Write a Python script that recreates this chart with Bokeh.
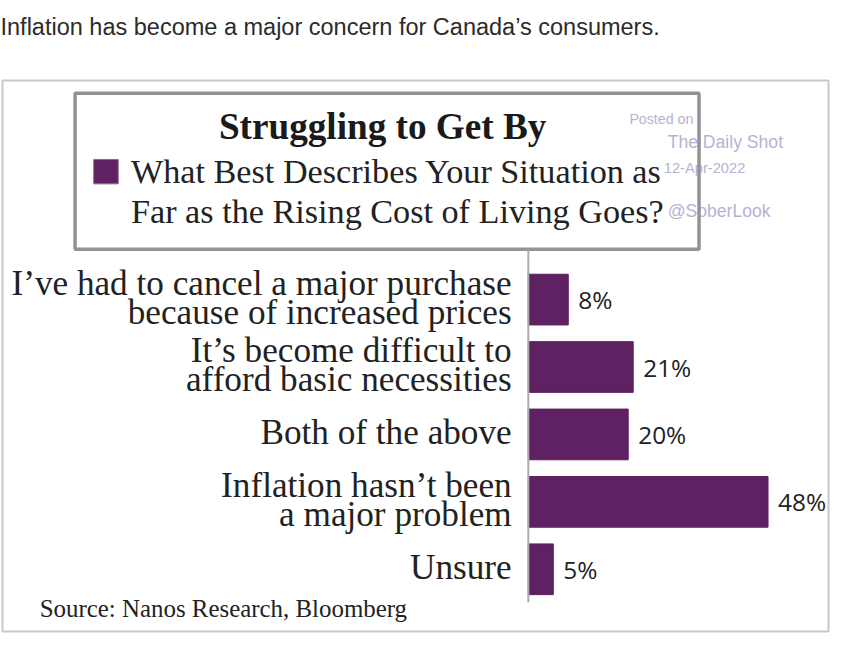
from bokeh.plotting import figure
from bokeh.models import Range1d
from bokeh.core.properties import value
from bokeh.embed import file_html
from bokeh.resources import INLINE

# ---------------- data ----------------
page_title = "Inflation has become a major concern for Canada\u2019s consumers."
chart_title = "Struggling to Get By"
legend_lines = ["What Best Describes Your Situation as",
                "Far as the Rising Cost of Living Goes?"]
categories = [
    "I\u2019ve had to cancel a major purchase\nbecause of increased prices",
    "It\u2019s become difficult to\nafford basic necessities",
    "Both of the above",
    "Inflation hasn\u2019t been\na major problem",
    "Unsure",
]
values = [8, 21, 20, 48, 5]
value_labels = [f"{v}%" for v in values]
source_note = "Source: Nanos Research, Bloomberg"
watermark_lines = ["Posted on", "The Daily Shot", "12-Apr-2022", "@SoberLook"]

# ---------------- layout helpers ----------------
W, H = 830, 633
REF_W, REF_H = 846, 649
BASE_X = 538.0        # reference px of the 0% baseline
PX_PER_PCT = 5.09     # reference px per percentage point
ROW0 = 306.65         # reference px of first row centre
ROW_STEP = 69.125     # reference px between rows
FS = 0.978


def X(rx):
    return (rx - BASE_X) / PX_PER_PCT


def Y(ry):
    return (ry - ROW0) / ROW_STEP


def fpx(s):
    return f"{s * FS:.1f}px"


BAR = "#5e2162"
INK = "#222222"
WM = "#b5b3d4"

p = figure(width=W, height=H,
           x_range=Range1d(X(0), X(REF_W)),
           y_range=Range1d(Y(REF_H), Y(0)),
           output_backend="svg", toolbar_location=None,
           x_axis_location=None, y_axis_location=None,
           min_border=0, outline_line_color=None)
p.min_border_left = p.min_border_right = p.min_border_top = p.min_border_bottom = 0
p.xgrid.visible = False
p.ygrid.visible = False
p.background_fill_color = "white"
p.border_fill_color = "white"

# page title
p.text(x=[X(0)], y=[Y(26.7)], text=[page_title], text_align="left",
       text_baseline="middle", text_font=value("Liberation Sans"),
       text_font_size=fpx(24), text_color="#2b2b2b")

# outer frame
p.quad(left=[X(2)], right=[X(844)], top=[Y(82)], bottom=[Y(647)],
       fill_color=None, line_color="#c8c8c8", line_width=2)

# watermark (behind)
wm_x = [641, 680, 676, 680]
wm_y = [121, 145, 172, 215.5]
wm_size = [14.5, 18, 15, 18]
for t, xx, yy, s in zip(watermark_lines, wm_x, wm_y, wm_size):
    p.text(x=[X(xx)], y=[Y(yy)], text=[t], text_align="left",
           text_baseline="middle", text_font=value("Liberation Sans"),
           text_font_size=fpx(s), text_color=WM)

# title box
p.quad(left=[X(76)], right=[X(712)], top=[Y(95)], bottom=[Y(255)],
       fill_color=None, line_color="#929292", line_width=3.5)

p.text(x=[X(389.5)], y=[Y(129.5)], text=[chart_title], text_align="center",
       text_baseline="middle", text_font=value("Liberation Serif"),
       text_font_style="bold", text_font_size=fpx(38), text_color="#1a1a1a")

# legend swatch
p.quad(left=[X(95)], right=[X(120)], top=[Y(163)], bottom=[Y(188)],
       fill_color=BAR, line_color="#8a6a8c", line_width=1)
p.text(x=[X(133), X(133)], y=[Y(175.5), Y(216.5)], text=legend_lines,
       text_align="left", text_baseline="middle",
       text_font=value("Liberation Serif"), text_font_size=fpx(35),
       text_color=INK)

# bars
idx = list(range(len(categories)))
p.hbar(y=idx, left=0, right=values, height=52 / ROW_STEP,
       fill_color=BAR, line_color=BAR)

# axis line
p.segment(x0=[0], x1=[0], y0=[Y(256)], y1=[Y(617)],
          line_color="#ababab", line_width=2)

# category labels
lx, ly, lt = [], [], []
for i, cat in enumerate(categories):
    parts = cat.split("\n")
    n = len(parts)
    for j, part in enumerate(parts):
        off = -2 - (n - 1) * 15 + j * 30
        lx.append(X(521))
        ly.append(i + off / ROW_STEP)
        lt.append(part)
p.text(x=lx, y=ly, text=lt, text_align="right", text_baseline="middle",
       text_font=value("Liberation Serif"), text_font_size=fpx(36),
       text_color=INK)

# value labels
p.text(x=values, y=idx, text=value_labels, x_offset=10, text_align="left",
       text_baseline="middle", text_font=value("Open Sans"),
       text_font_size=fpx(25), text_color=INK)

# source
p.text(x=[X(40)], y=[Y(623.3)], text=[source_note], text_align="left",
       text_baseline="middle", text_font=value("Liberation Serif"),
       text_font_size=fpx(25.5), text_color=INK)

open("out.html", "w").write(file_html(p, INLINE))
